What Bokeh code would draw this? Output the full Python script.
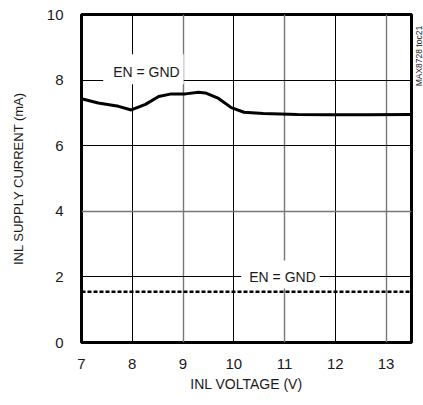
from bokeh.plotting import figure
from bokeh.layouts import row
from bokeh.models import Range1d, FixedTicker, Grid, Label
from bokeh.embed import file_html
from bokeh.resources import INLINE

# Data
curve_x = [7.0, 7.33, 7.73, 7.98, 8.26, 8.52, 8.77, 9.05, 9.30, 9.44, 9.70, 9.95, 10.2, 10.58, 11.25, 11.9, 12.6, 13.5]
curve_y = [7.43, 7.30, 7.20, 7.09, 7.26, 7.50, 7.58, 7.58, 7.63, 7.61, 7.44, 7.16, 7.02, 6.98, 6.95, 6.94, 6.94, 6.95]
dotted_x = [7.0, 13.5]
dotted_y = [1.55, 1.55]
x_ticks = [7, 8, 9, 10, 11, 12, 13]
y_ticks = [0, 2, 4, 6, 8, 10]
label_text = "EN = GND"
top_label_pos = (8.22, 8.33)
bottom_label_pos = (10.92, 2.07)
FONT = "Liberation Sans"

p = figure(width=413, height=405, output_backend="svg", toolbar_location=None,
           x_range=Range1d(7, 13.5), y_range=Range1d(0, 10),
           min_border_left=81, min_border_right=2, min_border_top=14, min_border_bottom=63)

p.xgrid.grid_line_color = None
p.ygrid.grid_line_color = None
p.add_layout(Grid(dimension=0, ticker=FixedTicker(ticks=[8, 10, 12]), grid_line_color="black", grid_line_width=1))
p.add_layout(Grid(dimension=0, ticker=FixedTicker(ticks=[9, 11, 13]), grid_line_color="#777777", grid_line_width=1.4))
p.add_layout(Grid(dimension=1, ticker=FixedTicker(ticks=[2, 6, 8]), grid_line_color="black", grid_line_width=1))
p.add_layout(Grid(dimension=1, ticker=FixedTicker(ticks=[4]), grid_line_color="#777777", grid_line_width=1.4))

p.outline_line_color = "black"
p.outline_line_width = 3
p.outline_line_alpha = 1

for ax in (p.xaxis, p.yaxis):
    ax.axis_line_color = None
    ax.major_tick_line_color = None
    ax.minor_tick_line_color = None
    ax.major_tick_out = 0
    ax.major_tick_in = 0
    ax.minor_tick_out = 0
    ax.major_label_text_font = FONT
    ax.major_label_text_font_size = "15px"
    ax.major_label_text_color = "#1a1a1a"
    ax.axis_label_text_font = FONT
    ax.axis_label_text_font_style = "normal"
    ax.axis_label_text_color = "#1a1a1a"

p.xaxis.axis_label_text_font_size = "14px"
p.yaxis.axis_label_text_font_size = "13px"
p.xaxis.ticker = FixedTicker(ticks=x_ticks)
p.yaxis.ticker = FixedTicker(ticks=y_ticks)
p.xaxis.axis_label = "INL VOLTAGE (V)"
p.yaxis.axis_label = "INL SUPPLY CURRENT (mA)"
p.xaxis.major_label_standoff = 16
p.yaxis.major_label_standoff = 18
p.xaxis.axis_label_standoff = 4
p.yaxis.axis_label_standoff = 18

p.line(curve_x, curve_y, line_color="black", line_width=3)
p.line(dotted_x, dotted_y, line_color="black", line_width=2.5, line_dash="4 2")

p.add_layout(Label(x=top_label_pos[0], y=top_label_pos[1], text=label_text, text_align="center",
                   text_baseline="middle", text_font=FONT, text_font_size="14px", text_color="#1a1a1a",
                   background_fill_color="white", padding=(10, 4, 10, 4)))
p.add_layout(Label(x=bottom_label_pos[0], y=bottom_label_pos[1], text=label_text, text_align="center",
                   text_baseline="middle", text_font=FONT, text_font_size="14px", text_color="#1a1a1a",
                   background_fill_color="white", padding=(8, 4, 8, 4)))

# narrow side panel carrying the rotated figure code
side = figure(width=10, height=405, output_backend="svg", toolbar_location=None,
              x_range=Range1d(0, 10), y_range=Range1d(0, 405),
              min_border_left=0, min_border_right=0, min_border_top=0, min_border_bottom=0)
side.axis.visible = False
side.grid.visible = False
side.outline_line_color = None
side.add_layout(Label(x=5, y=391, text="MAX8728 toc21", angle=1.5708,
                      text_align="right", text_baseline="middle", text_font=FONT, text_font_size="8.5px",
                      text_color="#1a1a1a"))

layout = row(p, side, spacing=0)
open("out.html", "w").write(file_html(layout, INLINE))
